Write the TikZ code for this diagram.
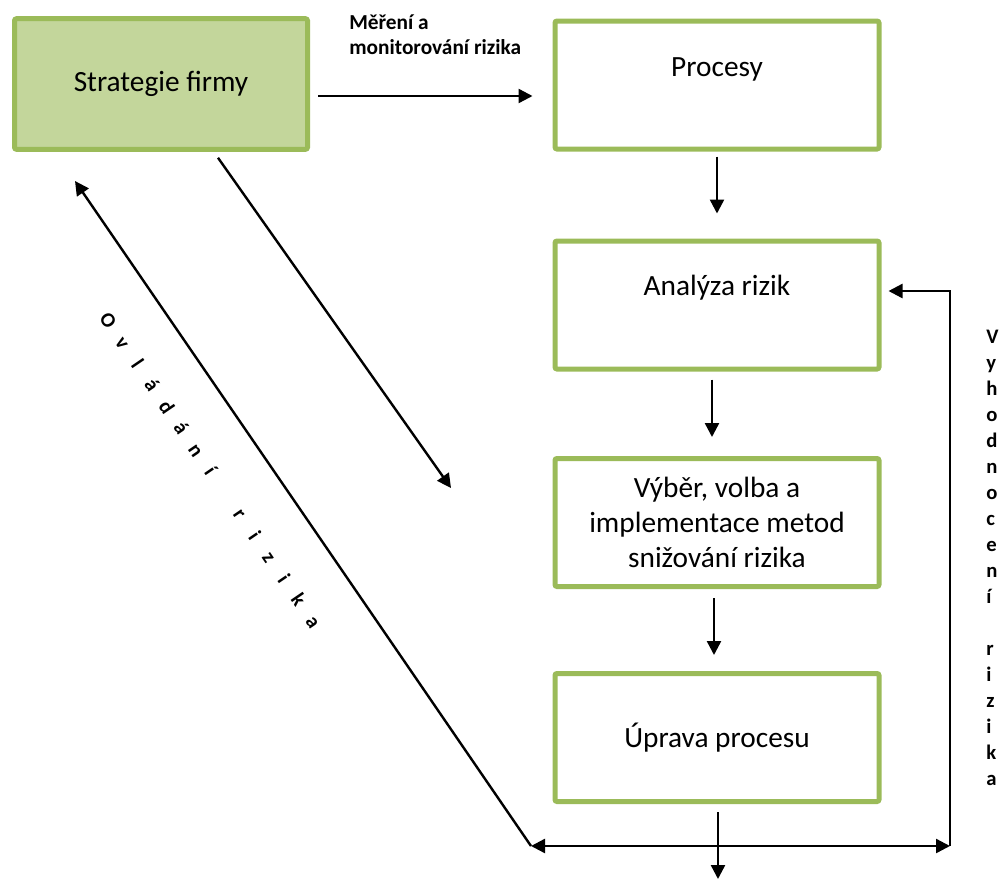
\documentclass[tikz,border=0pt]{standalone}
\usepackage{fontspec}
\setmainfont{Carlito}
\usetikzlibrary{arrows.meta,calc}
\definecolor{boxgreen}{HTML}{9BBB59}
\definecolor{stratfill}{HTML}{C3D69B}
\newcommand\boxfont{\fontsize{22}{26.4}\selectfont}
\newcommand\lblfont{\bfseries\fontsize{16}{19.1}\selectfont}
\newcommand\vfont{\bfseries\fontsize{15.5}{19.5}\selectfont}
\newcommand\ltbox[1]{\makebox[19.5pt]{#1}}
\begin{document}
\begin{tikzpicture}[x=0.75pt,y=-0.75pt,
  box/.style={draw=boxgreen, line width=3.75pt, rounded corners=1.5pt,
    minimum width=243pt, minimum height=96pt, inner sep=0pt,
    font=\boxfont, align=center},
  arr/.style={line width=1.8pt, -{Triangle[length=10.5pt,width=10.5pt]}},
  dbl/.style={line width=1.8pt, {Triangle[length=10.5pt,width=10.5pt]}-{Triangle[length=10.5pt,width=10.5pt]}}]
\useasboundingbox (0,0) rectangle (1000,879);

% boxes
\node[box, fill=stratfill, minimum width=219.75pt, minimum height=97.9pt] (strat) at (161,84) {\raisebox{-2pt}{Strategie firmy}};
\node[box, label={[font=\boxfont, name=procT, yshift=12pt]center:Procesy}] (proc) at (717,85) {};
\node[box, label={[font=\boxfont, name=analT, yshift=12.75pt]center:Analýza rizik}] (anal) at (717,305) {};
\node[box] (vyber) at (717,522.5) {Výběr, volba a\\implementace metod\\snižování rizika};
\node[box] (uprava) at (717,737.5) {Úprava procesu};

% free ends
\coordinate (bl) at (531,846);
\coordinate (br) at (950,846);
\coordinate (tl) at (75,181);
\coordinate (mid) at (451,488);
\coordinate (out) at (718,879);

% connectors
\draw[arr] ($(strat.east)+(8,12)$) -- ($(proc.west)+(-20,11)$);
\draw[arr] ($(proc.south)+(0,5)$) -- ($(anal.north)+(0,-25)$);
\draw[arr] ($(anal.south)+(-5,8)$) -- ($(vyber.north)+(-5,-19)$);
\draw[arr] ($(vyber.south)+(-3,9)$) -- ($(uprava.north)+(-3,-16)$);
\draw[arr] ($(uprava.south)+(1,8)$) -- (out);
\draw[arr] ($(strat.south)+(57,6)$) -- (mid);
\draw[arr] (bl) -- (tl);
\draw[dbl] (bl) -- (br);
\draw[arr] (br) |- ($(anal.east)+(7,-14)$);

% labels
\node[anchor=base west, inner sep=0pt] (meas) at (349,29.5)
  {\parbox[t]{200pt}{\lblfont Měření a\\monitorování rizika}};
\node[rotate=-55.7, inner sep=0pt, font=\vfont] (ovl) at (211,471)
  {\ltbox{O}\ltbox{v}\ltbox{l}\ltbox{á}\ltbox{d}\ltbox{á}\ltbox{n}\ltbox{í}\ltbox{ }\ltbox{r}\ltbox{i}\ltbox{z}\ltbox{i}\ltbox{k}\ltbox{a}};
\node[anchor=base west, inner sep=0pt] (vyh) at (986,343)
  {\parbox[t]{30pt}{\vfont V\\y\\h\\o\\d\\n\\o\\c\\e\\n\\í\\\mbox{}\\r\\i\\z\\i\\k\\a}};
\end{tikzpicture}
\end{document}
